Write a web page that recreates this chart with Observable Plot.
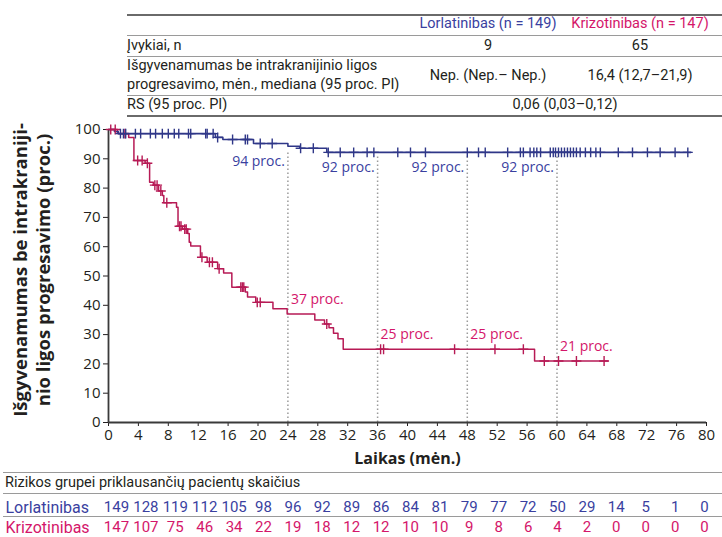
<!DOCTYPE html>
<html><head><meta charset="utf-8">
<script src="https://cdn.jsdelivr.net/npm/d3@7"></script>
<script src="https://cdn.jsdelivr.net/npm/@observablehq/plot@0.6"></script>
<style>
body{margin:0;background:#fff;}
#wrap{position:relative;width:722px;height:537px;overflow:hidden;font-family:Roboto,sans-serif;color:#231f20;}
.t{position:absolute;font-size:14.5px;white-space:nowrap;line-height:1;}
.l{transform:translate(0,-50%);}
.c{transform:translate(-50%,-50%);}
.r{transform:translate(-50%,-50%) rotate(-90deg);font-family:'Open Sans',sans-serif;font-weight:bold;}
.hl{position:absolute;height:1px;background:#9a9a9a;}
.hd{height:1.5px;background:#6a6a6a;}
#chart,#risk{position:absolute;left:0;}
#chart{top:116px;}
#risk{top:495px;}
</style></head><body><div id="wrap"><div id="chart"></div><div id="risk"></div></div>
<script>
// ---------- data ----------
const months = d3.range(0, 81, 4);
const lorlaRisk = [149,128,119,112,105,98,96,92,89,86,84,81,79,77,72,50,29,14,5,1,0];
const krizoRisk = [147,107,75,46,34,22,19,18,12,12,10,10,9,8,6,4,2,0,0,0,0];

const lorlaTime = [0,0.8,1.3,14.3,15.3,19.4,24.0,25.6,29.2,77.9];
const lorlaSurv = [100,99.3,98.6,97.3,96.6,95.2,94.3,93.6,92.2,92.2];
const krizoTime = [0,1.2,2.7,3.4,4.9,5.5,6.0,6.7,7.2,7.4,9.1,9.3,9.9,10.6,10.8,11.0,12.3,13.2,14.6,15.4,16.5,18.3,18.6,19.7,22.0,23.9,27.6,28.9,29.5,30.1,30.7,31.4,57.0,66.8];
const krizoSurv = [100,98.6,97.3,89.4,88.5,82,81,79,77.5,75,73.5,67,66,64.5,61.5,60.2,56.4,54.7,52.5,51,46.2,44.5,42.8,41,38.8,37,35,33.6,32.3,30.5,28.6,25,21,21];

const lorlaCensor = [1.6,2.0,2.3,3.6,4.3,5.6,6.3,7.2,8.0,8.8,9.4,10.7,11.0,13.0,13.2,14.0,14.6,16.6,18.3,18.6,20.3,21.9,25.7,27.4,29.4,31.0,32.8,34.6,35.5,38.7,40.4,42.4,48.0,49.5,50.4,53.4,55.1,55.5,56.4,56.9,57.3,57.8,59.1,59.5,59.8,60.2,60.6,61.0,61.4,61.8,62.2,62.6,63.1,63.8,64.5,65.2,65.8,68.2,70.1,72.1,73.8,75.8,77.5];
const krizoCensor = [0.3,0.9,2.2,3.9,4.5,5.2,6.2,6.5,7.0,7.8,9.5,9.7,10.2,10.4,12.5,13.5,13.9,14.8,17.7,17.9,18.1,19.9,20.3,29.2,36.4,36.8,46.3,51.7,55.5,58.3,60.2,62.6,66.3];

const landmarkMonths = [24,36,48,60];
const lorlaLandmark = [94,92,92,92];
const krizoLandmark = [37,25,25,21];

const groupNames = ["Lorlatinibas","Krizotinibas"];
const groupN = [149,147];
const eventsRow = ["Įvykiai, n", "9", "65"];
const medianLabel = ["Išgyvenamumas be intrakranijinio ligos", "progresavimo, mėn., mediana (95 proc. PI)"];
const medianVals = ["Nep. (Nep.– Nep.)", "16,4 (12,7–21,9)"];
const hrRow = ["RS (95 proc. PI)", "0,06 (0,03–0,12)"];
const riskTitle = "Rizikos grupei priklausančių pacientų skaičius";
const xTitle = "Laikas (mėn.)";
const yTitle = ["Išgyvenamumas be intrakraniji-", "nio ligos progresavimo (proc.)"];

// ---------- colours ----------
const BLUE_LINE = "#2f3788", RED_LINE = "#b71a55";
const BLUE_TXT = "#3a3f9f", RED_TXT = "#d4166a";

// ---------- header table (HTML) ----------
const wrap = document.getElementById("wrap");
function txt(s, x, y, cls, color, size){ const d=document.createElement("div"); d.className="t "+cls; d.textContent=s; d.style.left=x+"px"; d.style.top=y+"px"; if(color) d.style.color=color; if(size) d.style.fontSize=size+"px"; wrap.appendChild(d); return d; }
function hl(y, x1, x2, dark){ const d=document.createElement("div"); d.className="hl"+(dark?" hd":""); d.style.top=y+"px"; d.style.left=x1+"px"; d.style.width=(x2-x1)+"px"; wrap.appendChild(d); }
hl(14,127,722,true); hl(35,127,722); hl(56,127,722); hl(95,127,722); hl(115,127,722,true);
txt(`${groupNames[0]} (n = ${groupN[0]})`, 488, 24, "c", BLUE_TXT);
txt(`${groupNames[1]} (n = ${groupN[1]})`, 640, 24, "c", RED_TXT);
txt(eventsRow[0],127,46,"l"); txt(eventsRow[1],488,46,"c"); txt(eventsRow[2],640,46,"c");
txt(medianLabel[0],127,66,"l"); txt(medianLabel[1],127,85,"l");
txt(medianVals[0],488,76,"c"); txt(medianVals[1],640,76,"c");
txt(hrRow[0],127,105,"l"); txt(hrRow[1],565,105,"c");
// risk table section lines / title
hl(472,3,722); hl(493,3,722); hl(516,3,722);
txt(riskTitle,5,483,"l");
// y-axis title (rotated, two lines)
txt(yTitle[0],20,270,"r",null,18.5);
txt(yTitle[1],43,270,"r",null,18.5);

// ---------- chart ----------
const stepAt = (T,S,x)=>{ let v=S[0]; for(let i=0;i<T.length;i++) if(T[i]<=x) v=S[i]; return v; };
const lorla = lorlaTime.map((t,i)=>({t, s:lorlaSurv[i]}));
const krizo = krizoTime.map((t,i)=>({t, s:krizoSurv[i]}));
const lorlaC = lorlaCensor.map(t=>({t, s:stepAt(lorlaTime,lorlaSurv,t)}));
const krizoC = krizoCensor.map(t=>({t, s:stepAt(krizoTime,krizoSurv,t)}));
const lmBlue = landmarkMonths.map((m,i)=>({m, v:lorlaLandmark[i]}));
const lmRed = landmarkMonths.map((m,i)=>({m, v:krizoLandmark[i]}));

const chart = Plot.plot({
  width:722, height:354, marginLeft:108, marginRight:16, marginTop:13, marginBottom:48,
  style:{fontFamily:"'Open Sans', sans-serif", fontSize:"15px", color:"#231f20", background:"transparent", overflow:"visible"},
  x:{domain:[0,80]}, y:{domain:[0,100]},
  marks:[
    Plot.ruleX(landmarkMonths, {x:d=>d, y1:0, y2:d=>stepAt(lorlaTime,lorlaSurv,d)-1.5, stroke:"#9b9b9b", strokeWidth:1.5, strokeDasharray:"1.5,2.5"}),
    Plot.axisX({ticks:months, tickSize:4, tickPadding:3, label:null}),
    Plot.axisY({ticks:d3.range(0,101,10), tickSize:5, tickPadding:3, label:null}),
    Plot.ruleX([0], {stroke:"#3a3a3a", strokeWidth:1.8}),
    Plot.ruleY([0], {stroke:"#3a3a3a", strokeWidth:1.8}),
    Plot.line(krizo, {x:"t", y:"s", curve:"step-after", stroke:RED_LINE, strokeWidth:1.5}),
    Plot.line(lorla, {x:"t", y:"s", curve:"step-after", stroke:BLUE_LINE, strokeWidth:1.6}),
    Plot.dot(krizoC, {x:"t", y:"s", symbol:"plus", r:3.3, stroke:RED_LINE, strokeWidth:1.4}),
    Plot.dot(lorlaC, {x:"t", y:"s", symbol:"plus", r:3.3, stroke:BLUE_LINE, strokeWidth:1.4}),
    Plot.text(lmBlue, {x:"m", y:d=>d.v-5, text:d=>`${d.v} proc.`, textAnchor:"end", dx:-3, fill:BLUE_TXT, fontSize:14}),
    Plot.text(lmRed, {x:"m", y:d=>d.v+5, text:d=>`${d.v} proc.`, textAnchor:"start", dx:3, fill:RED_TXT, fontSize:14}),
    Plot.text([xTitle], {text:d=>d, frameAnchor:"bottom", textAnchor:"middle", dy:41, fontWeight:"bold", fontSize:16})
  ]
});
document.getElementById("chart").appendChild(chart);

// ---------- risk table ----------
const riskRows = [{g:groupNames[0], n:lorlaRisk, c:BLUE_TXT},{g:groupNames[1], n:krizoRisk, c:RED_TXT}];
const risk = Plot.plot({
  width:722, height:42, marginLeft:116, marginRight:18, marginTop:0, marginBottom:0,
  style:{fontFamily:"Roboto, sans-serif", fontSize:"15px", background:"transparent", overflow:"visible"},
  x:{domain:[0,80], axis:null},
  y:{type:"point", domain:groupNames, range:[12,32], padding:0, axis:null},
  marks: riskRows.flatMap(r=>[
    Plot.text(months.map((m,i)=>({m, n:r.n[i], g:r.g})), {x:"m", y:"g", text:d=>String(d.n), fill:r.c}),
    Plot.text([r], {y:"g", text:"g", frameAnchor:"left", dx:-111, textAnchor:"start", fill:r.c, fontSize:16})
  ])
});
document.getElementById("risk").appendChild(risk);
</script></body></html>
